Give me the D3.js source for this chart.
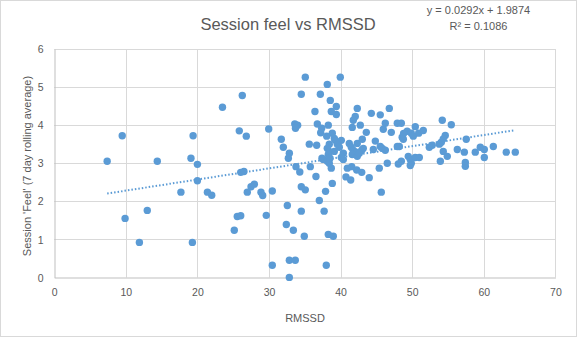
<!DOCTYPE html>
<html><head><meta charset="utf-8">
<script src="https://cdn.jsdelivr.net/npm/d3@7"></script>
<style>body{margin:0;background:#fff}svg{display:block}text{font-family:"Liberation Sans",Arial,sans-serif;fill:#595959}</style>
</head><body>
<svg id="c" width="577" height="337"></svg>
<script>
const rmssd = [7.4,9.5,9.9,11.9,13.0,14.4,17.7,19.1,19.3,19.4,20.0,20.0,21.4,22.0,23.5,
35.07,26.27,34.51,37.17,36.42,33.6,34.0,33.7,36.75,37.36,37.22,25.85,26.83,29.96,31.72,32.0,32.84,32.7,35.63,36.66,37.4,33.77,35.77,
26.05,26.5,34.3,36.56,27.49,27.95,26.97,28.88,29.12,30.46,34.51,35.07,37.03,37.9,32.56,34.51,37.7,25.57,26.05,29.62,25.15,32.42,33.4,34.93,30.46,32.84,33.67,32.84,38.0,38.28,38.98,38.84,38.7,40.94,41.55,42.25,42.95,44.0,40.75,41.41,45.4,45.68,
39.96,38.14,38.56,39.4,38.7,39.4,42.33,44.29,45.54,46.8,42.05,41.77,41.63,42.75,43.59,46.24,45.96,47.92,48.48,47.08,49.3,49.87,50.15,50.9,48.6,48.76,38.28,38.84,38.06,39.12,39.26,40.1,39.54,39.82,38.42,38.14,41.21,41.49,42.33,43.03,44.85,45.54,45.82,46.24,47.92,48.2,41.77,42.19,42.95,43.17,41.63,42.33,42.61,44.57,39.12,40.38,40.1,40.38,38.42,38.28,37.58,38.14,38.42,46.52,48.48,49.45,49.73,49.87,49.73,50.43,50.99,
54.2,55.46,50.43,51.55,54.62,54.34,54.07,53.79,57.55,52.8,52.39,56.3,57.28,54.34,54.9,58.81,59.51,60.07,61.33,60.07,63.14,64.4,53.93,57.42,57.42,48.8,48.06,38.52];
const feel = [3.05,3.72,1.55,0.92,1.76,3.05,2.24,3.13,0.92,3.72,2.97,2.54,2.24,2.16,4.47,
5.26,4.78,4.81,4.81,4.36,4.03,4.0,3.92,4.03,3.92,3.80,3.85,3.71,3.90,3.63,3.42,3.26,3.13,3.50,3.47,3.13,2.91,2.91,
2.76,2.78,2.77,2.65,2.38,2.45,2.24,2.24,2.15,2.27,2.38,2.30,2.02,2.26,1.89,1.74,1.74,1.60,1.62,1.63,1.24,1.39,1.24,1.08,0.32,0.45,0.45,0.0,0.32,1.13,1.08,2.47,2.87,2.87,2.91,2.82,2.76,2.62,2.64,2.56,2.87,2.24,
5.26,5.07,4.65,4.49,4.36,4.28,4.44,4.31,4.27,4.44,4.23,4.13,3.94,4.0,3.81,4.05,3.89,4.05,4.05,3.81,3.84,3.79,3.71,3.79,3.68,3.63,4.0,3.79,3.71,3.65,3.60,3.60,3.50,3.42,3.50,3.39,3.52,3.42,3.52,3.63,3.58,3.44,3.39,3.34,3.44,3.44,3.34,3.29,3.34,3.39,3.23,3.18,3.26,3.36,3.31,3.26,3.15,3.10,3.31,3.23,3.10,3.05,3.0,3.0,3.05,3.18,3.10,3.0,2.94,3.15,3.15,
4.13,4.01,3.96,3.86,3.73,3.64,3.55,3.50,3.63,3.47,3.42,3.36,3.29,3.31,3.18,3.29,3.42,3.36,3.44,3.15,3.29,3.29,3.05,3.02,2.92,3.78,2.98,3.13];
const xTicks = [0,10,20,30,40,50,60,70];
const yTicks = [0,1,2,3,4,5,6];
const trendSlope = [0.0292];
const trendIntercept = [1.9874];
const titleText = "Session feel vs RMSSD";
const eqLines = ["y = 0.0292x + 1.9874", "R² = 0.1086"];
const xTitle = "RMSSD";
const yTitle = "Session 'Feel' (7 day rolling average)";

const svg = d3.select("#c");
const x = d3.scaleLinear().domain([0,70]).range([54.2,555.4]);
const y = d3.scaleLinear().domain([0,6]).range([277.4,49]);

svg.append("rect").attr("x",0.5).attr("y",0.5).attr("width",576).attr("height",336)
  .attr("fill","#fff").attr("stroke","#d9d9d9");

const grid = svg.append("g");
grid.selectAll(".gx").data(xTicks.filter(d=>d>0)).join("line")
  .attr("x1",d=>Math.round(x(d))+0.5).attr("x2",d=>Math.round(x(d))+0.5)
  .attr("y1",y(6)).attr("y2",y(0)).attr("stroke","#d9d9d9");
grid.selectAll(".gy").data(yTicks.filter(d=>d>0)).join("line")
  .attr("y1",d=>Math.round(y(d))+0.5).attr("y2",d=>Math.round(y(d))+0.5)
  .attr("x1",x(0)).attr("x2",x(70)).attr("stroke","#d9d9d9");

const xAxis = svg.append("g").attr("transform",`translate(0,${Math.round(y(0))+0.5})`)
  .call(d3.axisBottom(x).tickValues(xTicks).tickFormat(d3.format("d")).tickSize(0).tickPadding(11));
const yAxis = svg.append("g").attr("transform",`translate(${Math.round(x(0))+0.5},0)`)
  .call(d3.axisLeft(y).tickValues(yTicks).tickFormat(d3.format("d")).tickSize(0).tickPadding(11));
[xAxis,yAxis].forEach(a=>{
  a.select(".domain").attr("stroke","#bfbfbf");
  a.selectAll("text").attr("font-size","10.5px").attr("fill","#595959")
   .attr("font-family","'Liberation Sans',Arial,sans-serif");
});
yAxis.selectAll("text").attr("dy","0.35em");

// trend line
const xmin = d3.min(rmssd), xmax = d3.max(rmssd);
const tr = [xmin,xmax].map(v=>[v, trendSlope[0]*v+trendIntercept[0]]);
svg.append("path").datum(tr)
  .attr("d",d3.line().x(d=>x(d[0])).y(d=>y(d[1])))
  .attr("stroke","#5b9bd5").attr("stroke-width",2).attr("stroke-dasharray","1.5,2")
  .attr("fill","none");

svg.append("g").selectAll("circle").data(rmssd.map((v,i)=>[v,feel[i]])).join("circle")
  .attr("cx",d=>x(d[0])).attr("cy",d=>y(d[1])).attr("r",3.7).attr("fill","#5b9bd5");

svg.append("text").attr("x",288).attr("y",30).attr("text-anchor","middle")
  .attr("font-size","16.5px").text(titleText);
svg.selectAll(".eq").data(eqLines).join("text")
  .attr("x",478.5).attr("y",(d,i)=>13.5+i*16.5).attr("text-anchor","middle")
  .attr("font-size","11px").text(d=>d);
svg.append("text").attr("x",305).attr("y",322).attr("text-anchor","middle")
  .attr("font-size","11px").text(xTitle);
svg.append("text").attr("transform","translate(30.5,166) rotate(-90)").attr("text-anchor","middle")
  .attr("font-size","11px").text(yTitle);
</script>
</body></html>
